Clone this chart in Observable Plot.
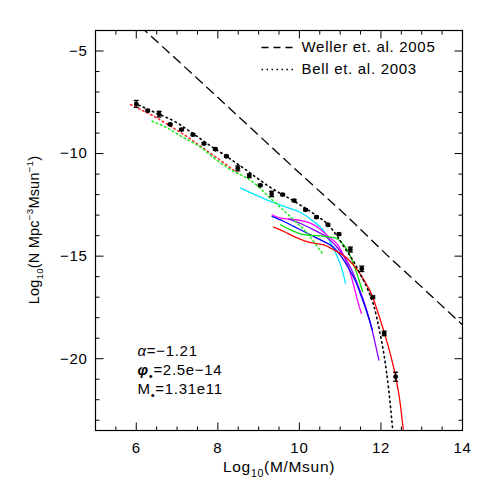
<!DOCTYPE html>
<html><head><meta charset="utf-8">
<script src="https://cdn.jsdelivr.net/npm/d3@7"></script>
<script src="https://cdn.jsdelivr.net/npm/@observablehq/plot@0.6"></script>
<style>
html,body{margin:0;padding:0;background:#fff;}
#chart{position:relative;width:491px;height:491px;}
</style></head><body><div id="chart"></div>
<script>
// ---- axes ----
const xDomain = [5, 14];
const yDomain = [-23.5, -4];
const xMajorTicks = [6, 8, 10, 12, 14];
const xMinorTicks = [5.5, 6.5, 7, 7.5, 8.5, 9, 9.5, 10.5, 11, 11.5, 12.5, 13, 13.5];
const yMajorTicks = [-5, -10, -15, -20];
const yMinorTicks = [-6, -7, -8, -9, -11, -12, -13, -14, -16, -17, -18, -19, -21, -22, -23];

// ---- measured points with error bars ----
const pointX = [6.00, 6.28, 6.56, 6.83, 7.11, 7.39, 7.66, 7.94, 8.21, 8.49, 8.77, 9.04, 9.32, 9.59, 9.87, 10.15, 10.42, 10.70, 10.97, 11.25, 11.53, 11.80, 12.08, 12.36];
const pointY = [-7.58, -7.91, -8.08, -8.58, -8.83, -9.08, -9.51, -9.79, -10.13, -10.72, -11.08, -11.55, -11.97, -12.00, -12.29, -12.74, -13.10, -13.47, -13.93, -14.68, -15.62, -17.00, -18.77, -20.88];
const pointErr = [0.17, 0.05, 0.14, 0.05, 0.05, 0.05, 0.05, 0.05, 0.05, 0.12, 0.09, 0.05, 0.13, 0.05, 0.05, 0.05, 0.05, 0.05, 0.05, 0.12, 0.13, 0.06, 0.11, 0.22];

// ---- curves [log M, log N] ----
const wellerLine = [[6.1, -3.8], [7.57, -6.47], [9.78, -10.54], [11.17, -13.06], [12.15, -14.95], [12.97, -16.45], [14.0, -18.35]];
const bellLine = [[6.06, -7.64], [6.43, -7.97], [7.0, -8.50], [7.25, -8.83], [7.90, -9.73], [8.15, -10.05], [8.39, -10.38], [8.68, -10.78], [8.96, -11.19], [9.25, -11.60], [9.78, -12.22], [10.03, -12.52], [10.40, -13.0], [10.72, -13.50], [10.93, -14.04], [11.13, -14.66], [11.33, -15.26], [11.50, -15.90], [11.67, -16.60], [11.83, -17.45], [11.97, -18.69], [12.09, -20.0], [12.19, -21.5], [12.29, -23.5]];
const redDotted = [[5.86, -7.61], [6.10, -7.85], [6.43, -8.18], [6.84, -8.67], [7.25, -9.18], [7.62, -9.70], [8.15, -10.46], [8.54, -11.03]];
const greenDotted = [[6.39, -8.42], [6.76, -8.75], [7.17, -9.24], [7.53, -9.62], [7.90, -10.21], [8.31, -10.78], [8.80, -11.30], [9.37, -12.33], [9.86, -13.23], [10.19, -13.88], [10.44, -14.53], [10.58, -14.90]];
const cyanCurve = [[8.56, -11.68], [8.92, -12.01], [9.29, -12.33], [9.66, -12.60], [10.03, -12.87], [10.35, -13.31], [10.59, -13.75], [10.76, -14.34], [10.93, -15.02], [11.05, -15.67], [11.13, -16.32]];
const magentaCurve = [[9.33, -12.98], [9.54, -13.15], [9.78, -13.20], [10.03, -13.26], [10.27, -13.39], [10.48, -13.64], [10.71, -14.04], [10.97, -14.53], [11.13, -15.18], [11.25, -15.84], [11.34, -16.49], [11.42, -17.12], [11.52, -17.79]];
const purpleCurve = [[9.74, -13.18], [10.03, -13.41], [10.35, -13.72], [10.68, -14.09], [10.93, -14.58], [11.13, -15.12], [11.30, -15.75], [11.45, -16.49], [11.60, -17.32], [11.72, -18.10], [11.84, -19.08], [11.95, -20.07]];
const blueCurve = [[9.33, -13.06], [9.62, -13.31], [9.86, -13.55], [10.11, -13.80], [10.35, -14.04], [10.60, -14.29], [10.84, -14.58], [11.03, -15.02], [11.20, -15.56], [11.38, -16.24], [11.52, -16.97], [11.65, -17.71], [11.79, -18.60]];
const greenCurve = [[9.54, -13.47], [9.78, -13.72], [10.03, -13.91], [10.27, -13.99], [10.52, -14.01], [10.72, -14.06], [10.91, -14.14], [11.08, -14.43], [11.23, -14.92], [11.35, -15.51], [11.45, -16.09], [11.55, -16.73]];
const redCurve = [[9.37, -13.59], [9.62, -13.80], [9.86, -14.04], [10.11, -14.24], [10.35, -14.37], [10.60, -14.45], [10.84, -14.69], [11.17, -15.10], [11.42, -15.67], [11.58, -16.16], [11.79, -16.95], [11.92, -17.71], [12.07, -18.65], [12.22, -19.70], [12.36, -20.88], [12.46, -22.0], [12.55, -23.5]];

const legendLabels = ["Weller et. al. 2005", "Bell et. al. 2003"];
const fitLabels = ["α=−1.21", "φ•=2.5e−14", "M•=1.31e11"];
const xLabel = "Log10(M/Msun)";
const yLabel = "Log10(N Mpc-3Msun-1)";

// ---- helpers ----
const points = pointX.map((x, i) => ({x, y: pointY[i], e: pointErr[i]}));
const toXY = a => a.map(([x, y]) => ({x, y}));
const mk = f => ({draw(ctx, size) { const l = Math.sqrt(size / Math.PI); f(ctx, l); }});
const tickUp = mk((c, l) => { c.moveTo(0, 0); c.lineTo(0, -l); });
const tickDown = mk((c, l) => { c.moveTo(0, 0); c.lineTo(0, l); });
const tickRight = mk((c, l) => { c.moveTo(0, 0); c.lineTo(l, 0); });
const tickLeft = mk((c, l) => { c.moveTo(0, 0); c.lineTo(-l, 0); });
const hline = mk((c, l) => { c.moveTo(-l, 0); c.lineTo(l, 0); });

const tickSet = (xs, ys, len) => [
  Plot.dot(xs, {x: d => d, y: () => yDomain[0], symbol: tickUp, r: len, stroke: "black", fill: "none", strokeWidth: 1}),
  Plot.dot(xs, {x: d => d, y: () => yDomain[1], symbol: tickDown, r: len, stroke: "black", fill: "none", strokeWidth: 1}),
  Plot.dot(ys, {y: d => d, x: () => xDomain[0], symbol: tickRight, r: len, stroke: "black", fill: "none", strokeWidth: 1}),
  Plot.dot(ys, {y: d => d, x: () => xDomain[1], symbol: tickLeft, r: len, stroke: "black", fill: "none", strokeWidth: 1})
];

const line = (data, stroke, extra = {}) => Plot.line(toXY(data), {x: "x", y: "y", stroke, strokeWidth: 1.3, curve: "monotone-x", clip: true, ...extra});
const label = (txt, opts) => Plot.text([txt], {text: d => d, lineAnchor: "middle", fontSize: 15, ...opts});

const font = "'Liberation Sans', Arial, Helvetica, sans-serif";

const chart = Plot.plot({
  width: 491, height: 491,
  marginLeft: 95, marginRight: 29, marginTop: 30, marginBottom: 61,
  style: {fontFamily: font, fontSize: "15px", color: "black", background: "white", letterSpacing: "0.7px"},
  x: {domain: xDomain},
  y: {domain: yDomain},
  marks: [
    Plot.axisX({ticks: xMajorTicks, tickSize: 0, tickPadding: 12, label: null, fontSize: 15}),
    Plot.axisY({ticks: yMajorTicks, tickSize: 0, tickPadding: 8, label: null, fontSize: 15}),
    ...tickSet(xMajorTicks, yMajorTicks, 8),
    ...tickSet(xMinorTicks, yMinorTicks, 4),
    Plot.frame({stroke: "black", strokeWidth: 1.2}),
    line(cyanCurve, "#00e5ff"),
    line(magentaCurve, "#ff00ff"),
    line(purpleCurve, "#8a00ff"),
    line(blueCurve, "#0000ff"),
    line(greenCurve, "#00dd00"),
    line(redCurve, "#ff0000"),
    line(redDotted, "#ff3030", {strokeDasharray: "1.5,3", strokeWidth: 1.6}),
    line(greenDotted, "#22ee22", {strokeDasharray: "1.5,3", strokeWidth: 1.6}),
    line(bellLine, "black", {strokeDasharray: "1.5,3.5", strokeWidth: 1.6}),
    line(wellerLine, "black", {strokeDasharray: "9,6", strokeWidth: 1.3, curve: "linear"}),
    Plot.ruleX(points, {x: "x", y1: d => d.y - d.e, y2: d => d.y + d.e, stroke: "black", strokeWidth: 1.3}),
    Plot.dot(points, {x: "x", y: d => d.y - d.e, symbol: hline, r: 2.5, stroke: "black", fill: "none", strokeWidth: 1.3}),
    Plot.dot(points, {x: "x", y: d => d.y + d.e, symbol: hline, r: 2.5, stroke: "black", fill: "none", strokeWidth: 1.3}),
    Plot.dot(points, {x: "x", y: "y", r: 2.4, fill: "black", stroke: "none"}),
    // legend (inside the frame, top right)
    Plot.dot([0], {frameAnchor: "top-left", dx: 182, dy: 17, symbol: hline, r: 16, stroke: "black", fill: "none", strokeDasharray: "7,5", strokeWidth: 1.3}),
    Plot.dot([0], {frameAnchor: "top-left", dx: 182, dy: 39, symbol: hline, r: 16, stroke: "black", fill: "none", strokeDasharray: "1.5,3.5", strokeWidth: 1.6}),
    label(legendLabels[0], {frameAnchor: "top-left", dx: 206, dy: 17, textAnchor: "start"}),
    label(legendLabels[1], {frameAnchor: "top-left", dx: 206, dy: 39, textAnchor: "start"}),
    // fit parameters (bottom left)
    label(fitLabels[0], {frameAnchor: "bottom-left", dx: 42, dy: -79, textAnchor: "start"}),
    label(fitLabels[1], {frameAnchor: "bottom-left", dx: 42, dy: -60, textAnchor: "start"}),
    label(fitLabels[2], {frameAnchor: "bottom-left", dx: 42, dy: -41, textAnchor: "start"}),
    // axis titles
    label(xLabel, {frameAnchor: "bottom", dy: 37, fontSize: 15.5, textAnchor: "middle"}),
    label(yLabel, {frameAnchor: "left", dx: -56, rotate: -90, fontSize: 14.5, textAnchor: "middle"})
  ]
});

document.getElementById("chart").appendChild(chart);

// ---- rich text (subscripts, superscripts, italics) ----
const svg = d3.select(chart);
const findText = s => svg.selectAll("text").filter(function() { return this.textContent === s; }).node();
function rich(el, parts, fs, anchor) {
  if (!el) return;
  const t = d3.select(el);
  t.text("");
  if (anchor) t.attr("text-anchor", anchor);
  let cur = 0;
  parts.forEach(p => {
    const shift = p.sub ? fs * 0.3 : p.sup ? -fs * 0.42 : 0;
    const ts = t.append("tspan").text(p.t).attr("dy", (shift - cur) + "px");
    if (p.sub || p.sup) ts.attr("font-size", (fs * (p.scale || 0.68)) + "px");
    if (p.italic) ts.attr("font-style", "italic");
    if (p.bold) ts.attr("font-weight", "bold");
    cur = shift;
  });
}
rich(findText(fitLabels[0]), [{t: "α", italic: true}, {t: "=−1.21"}], 15);
rich(findText(fitLabels[1]), [{t: "φ", italic: true, bold: true}, {t: "•", sub: true, scale: 0.75}, {t: "=2.5e−14"}], 15);
rich(findText(fitLabels[2]), [{t: "M"}, {t: "•", sub: true, scale: 0.75}, {t: "=1.31e11"}], 15);
rich(findText(xLabel), [{t: "Log"}, {t: "10", sub: true}, {t: "(M/Msun)"}], 15.5, "middle");
const yEl = findText(yLabel);
rich(yEl, [{t: "Log"}, {t: "10", sub: true}, {t: "(N Mpc"}, {t: "−3", sup: true}, {t: "Msun"}, {t: "−1", sup: true}, {t: ")"}], 14.5, "middle");
// place the y title explicitly: centred on the frame's vertical middle
if (yEl) {
  const g = yEl.parentNode;
  g.removeAttribute("transform");
  d3.select(yEl).attr("x", null).attr("y", null).attr("letter-spacing", "0.2px")
    .attr("transform", "translate(39,230) rotate(-90)");
}
</script>
</body></html>
